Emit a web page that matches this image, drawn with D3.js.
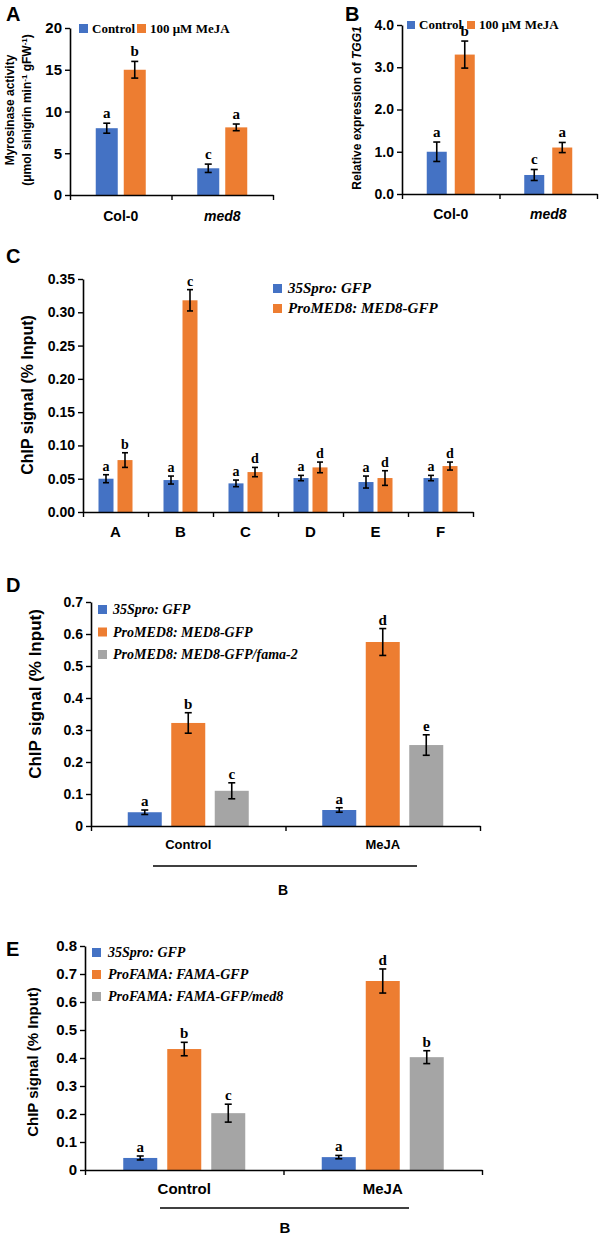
<!DOCTYPE html>
<html><head><meta charset="utf-8">
<script src="https://cdn.jsdelivr.net/npm/d3@7"></script>
<style>
body{margin:0;background:#fff;}
svg text{font-family:"Liberation Sans",Arial,sans-serif;}
</style></head><body>
<svg id="chart" width="600" height="1237"></svg>
<script>
// ---------- Panel A ----------
const aGroups = ["Col-0", "med8"];
const aSeriesNames = ["Control", "100 μM MeJA"];
const aControl = [8.0, 3.2];
const aControlErr = [0.6, 0.5];
const aControlLetters = ["a", "c"];
const aMeJA = [15.0, 8.1];
const aMeJAErr = [1.0, 0.4];
const aMeJALetters = ["b", "a"];
const aTicks = [0, 5, 10, 15, 20];

// ---------- Panel B ----------
const bGroups = ["Col-0", "med8"];
const bSeriesNames = ["Control", "100 μM MeJA"];
const bControl = [1.0, 0.45];
const bControlErr = [0.23, 0.13];
const bControlLetters = ["a", "c"];
const bMeJA = [3.3, 1.1];
const bMeJAErr = [0.32, 0.12];
const bMeJALetters = ["b", "a"];
const bTicks = [0, 1, 2, 3, 4];

// ---------- Panel C ----------
const cGroups = ["A", "B", "C", "D", "E", "F"];
const cSeriesNames = ["35Spro: GFP", "ProMED8: MED8-GFP"];
const cGFP = [0.050, 0.048, 0.043, 0.051, 0.045, 0.051];
const cGFPErr = [0.006, 0.006, 0.005, 0.004, 0.009, 0.004];
const cGFPLetters = ["a", "a", "a", "a", "a", "a"];
const cMED8 = [0.078, 0.318, 0.060, 0.067, 0.051, 0.069];
const cMED8Err = [0.011, 0.016, 0.007, 0.008, 0.011, 0.006];
const cMED8Letters = ["b", "c", "d", "d", "d", "d"];
const cTicks = [0, 0.05, 0.10, 0.15, 0.20, 0.25, 0.30, 0.35];

// ---------- Panel D ----------
const dGroups = ["Control", "MeJA"];
const dSeriesNames = ["35Spro: GFP", "ProMED8: MED8-GFP", "ProMED8: MED8-GFP/fama-2"];
const dGFP = [0.043, 0.050];
const dGFPErr = [0.007, 0.007];
const dGFPLetters = ["a", "a"];
const dMED8 = [0.322, 0.575];
const dMED8Err = [0.032, 0.042];
const dMED8Letters = ["b", "d"];
const dFama = [0.110, 0.253];
const dFamaErr = [0.025, 0.032];
const dFamaLetters = ["c", "e"];
const dTicks = [0, 0.1, 0.2, 0.3, 0.4, 0.5, 0.6, 0.7];
const dRegion = "B";

// ---------- Panel E ----------
const eGroups = ["Control", "MeJA"];
const eSeriesNames = ["35Spro: GFP", "ProFAMA: FAMA-GFP", "ProFAMA: FAMA-GFP/med8"];
const eGFP = [0.043, 0.046];
const eGFPErr = [0.007, 0.006];
const eGFPLetters = ["a", "a"];
const eFAMA = [0.432, 0.675];
const eFAMAErr = [0.024, 0.043];
const eFAMALetters = ["b", "d"];
const eMed8 = [0.203, 0.403];
const eMed8Err = [0.032, 0.023];
const eMed8Letters = ["c", "b"];
const eTicks = [0, 0.1, 0.2, 0.3, 0.4, 0.5, 0.6, 0.7, 0.8];
const eRegion = "B";

const BLUE = "#4472C4", ORANGE = "#ED7D31", GRAY = "#A5A5A5";
const SANS = "'Liberation Sans', Arial, sans-serif";
const SERIF = "'Liberation Serif', 'Times New Roman', serif";

const svg = d3.select("#chart");

function panel(o) {
  const g = svg.append("g");
  const y = d3.scaleLinear().domain([0, o.max]).range([o.bottom, o.top]);
  const x = d3.scaleBand().domain(o.groups).range([o.left, o.right]);
  const n = o.series.length;
  const gw = n * o.barW + (n - 1) * o.gap;
  const inner = d3.scaleBand().domain(d3.range(n)).range([-gw / 2, gw / 2])
    .paddingInner(o.gap / (o.barW + o.gap));

  o.series.forEach((s, si) => {
    o.groups.forEach((grp, gi) => {
      const cx = x(grp) + x.bandwidth() / 2 + inner(si);
      g.append("rect")
        .attr("x", cx).attr("width", inner.bandwidth())
        .attr("y", y(s.values[gi])).attr("height", y(0) - y(s.values[gi]))
        .attr("fill", s.color);
    });
  });
  o.series.forEach((s, si) => {
    o.groups.forEach((grp, gi) => {
      const mx = x(grp) + x.bandwidth() / 2 + inner(si) + inner.bandwidth() / 2;
      const v = s.values[gi], e = s.errs[gi];
      const y1 = y(v + e), y2 = y(v - e);
      const cw = o.cap;
      g.append("line").attr("x1", mx).attr("x2", mx).attr("y1", y1).attr("y2", y2)
        .attr("stroke", "#000").attr("stroke-width", 1.6);
      [y1, y2].forEach(yy => g.append("line").attr("x1", mx - cw).attr("x2", mx + cw)
        .attr("y1", yy).attr("y2", yy).attr("stroke", "#000").attr("stroke-width", 1.6));
      g.append("text").attr("x", mx).attr("y", y1 - o.letterGap)
        .attr("text-anchor", "middle").style("font-family", SERIF)
        .style("font-weight", "bold").style("font-size", o.letterSize + "px")
        .text(s.letters[gi]);
    });
  });

  const ya = g.append("g").attr("transform", `translate(${o.left},0)`)
    .call(d3.axisLeft(y).tickValues(o.ticks).tickFormat(o.fmt).tickSize(5).tickSizeOuter(0).tickPadding(3));
  ya.selectAll("text").style("font-family", SANS).style("font-weight", "bold")
    .style("font-size", o.tickSize + "px").attr("fill", "#000");
  ya.select(".domain").attr("stroke", "#000").attr("stroke-width", 1.6);
  ya.selectAll(".tick line").attr("stroke", "#000").attr("stroke-width", 1.4);

  const xl = d3.scaleLinear().domain([0, o.groups.length]).range([o.left, o.right]);
  const xa = g.append("g").attr("transform", `translate(0,${o.bottom})`)
    .call(d3.axisBottom(xl).tickValues(d3.range(o.groups.length + 1)).tickFormat("").tickSize(5).tickSizeOuter(0));
  xa.select(".domain").attr("stroke", "#000").attr("stroke-width", 1.6);
  xa.selectAll(".tick line").attr("stroke", "#000").attr("stroke-width", 1.4);

  o.groups.forEach((grp, gi) => {
    g.append("text").attr("x", x(grp) + x.bandwidth() / 2).attr("y", o.bottom + o.catDy)
      .attr("text-anchor", "middle").style("font-family", SANS).style("font-weight", "bold")
      .style("font-style", (o.italicGroups && o.italicGroups.includes(grp)) ? "italic" : "normal")
      .style("font-size", o.catSize + "px").text(grp);
  });

  const t = g.append("text").attr("transform", `translate(${o.titleX},${o.titleY}) rotate(-90)`)
    .attr("text-anchor", "middle").style("font-family", SANS).style("font-weight", "bold")
    .style("font-size", o.titleSize + "px");
  o.title(t);

  svg.append("text").attr("x", o.plX).attr("y", o.plY).style("font-family", SANS)
    .style("font-weight", "bold").style("font-size", "20px").text(o.pl);
  return { x, y, g };
}

function legend(items, o) {
  items.forEach((it, i) => {
    const xx = o.x + (o.dx ? o.dxs[i] : 0);
    const yy = o.y + (o.dy ? i * o.dy : 0);
    svg.append("rect").attr("x", xx).attr("y", yy - o.sq).attr("width", o.sq).attr("height", o.sq).attr("fill", it.color);
    svg.append("text").attr("x", xx + o.sq + o.pad).attr("y", yy)
      .style("font-family", SERIF).style("font-weight", "bold")
      .style("font-style", o.italic ? "italic" : "normal")
      .style("font-size", o.size + "px").text(it.name);
  });
}

// ---- A ----
panel({
  left: 70, right: 273, top: 28, bottom: 195, max: 20, ticks: aTicks, fmt: d3.format("d"),
  groups: aGroups, italicGroups: ["med8"], barW: 22, gap: 6, cap: 3.5, letterGap: 5, letterSize: 15,
  series: [
    { values: aControl, errs: aControlErr, letters: aControlLetters, color: BLUE },
    { values: aMeJA, errs: aMeJAErr, letters: aMeJALetters, color: ORANGE }
  ],
  tickSize: 15, catDy: 26, catSize: 14,
  titleX: 14, titleY: 110, titleSize: 12,
  title: t => {
    t.append("tspan").attr("x", 0).attr("dy", 0).text("Myrosinase activity");
    t.append("tspan").attr("x", 0).attr("dy", 17).text("(μmol sinigrin min");
    t.append("tspan").attr("dy", -4).style("font-size", "8px").text("-1");
    t.append("tspan").attr("dy", 4).text(" gFW");
    t.append("tspan").attr("dy", -4).style("font-size", "8px").text("-1");
    t.append("tspan").attr("dy", 4).text(")");
  },
  pl: "A", plX: 6, plY: 21
});
legend([{ name: aSeriesNames[0], color: BLUE }, { name: aSeriesNames[1], color: ORANGE }],
  { x: 79, y: 33, sq: 9, pad: 4, size: 13, dx: true, dxs: [0, 58] });

// ---- B ----
panel({
  left: 402, right: 597, top: 25, bottom: 194, max: 4, ticks: bTicks, fmt: d3.format(".1f"),
  groups: bGroups, italicGroups: ["med8"], barW: 20, gap: 8, cap: 3.5, letterGap: 5, letterSize: 15,
  series: [
    { values: bControl, errs: bControlErr, letters: bControlLetters, color: BLUE },
    { values: bMeJA, errs: bMeJAErr, letters: bMeJALetters, color: ORANGE }
  ],
  tickSize: 14, catDy: 25, catSize: 14,
  titleX: 361, titleY: 108, titleSize: 12,
  title: t => {
    t.append("tspan").text("Relative expression of ");
    t.append("tspan").style("font-style", "italic").text("TGG1");
  },
  pl: "B", plX: 345, plY: 21
});
legend([{ name: bSeriesNames[0], color: BLUE }, { name: bSeriesNames[1], color: ORANGE }],
  { x: 407, y: 29, sq: 8, pad: 4, size: 13, dx: true, dxs: [0, 60] });

// ---- C ----
panel({
  left: 83, right: 473, top: 279, bottom: 512, max: 0.35, ticks: cTicks, fmt: d3.format(".2f"),
  groups: cGroups, barW: 15, gap: 4, cap: 3, letterGap: 4, letterSize: 14,
  series: [
    { values: cGFP, errs: cGFPErr, letters: cGFPLetters, color: BLUE },
    { values: cMED8, errs: cMED8Err, letters: cMED8Letters, color: ORANGE }
  ],
  tickSize: 14, catDy: 25, catSize: 15,
  titleX: 33, titleY: 395, titleSize: 16,
  title: t => t.text("ChIP signal (% Input)"),
  pl: "C", plX: 6, plY: 263
});
legend([{ name: cSeriesNames[0], color: BLUE }, { name: cSeriesNames[1], color: ORANGE }],
  { x: 273, y: 293, sq: 9, pad: 6, size: 15, italic: true, dy: 20 });

// ---- D ----
const zeroFmt = d => d === 0 ? "0" : d3.format(".1f")(d);
panel({
  left: 91, right: 480, top: 602, bottom: 826, max: 0.7, ticks: dTicks, fmt: zeroFmt,
  groups: dGroups, barW: 34, gap: 9.5, cap: 3.5, letterGap: 4, letterSize: 15,
  series: [
    { values: dGFP, errs: dGFPErr, letters: dGFPLetters, color: BLUE },
    { values: dMED8, errs: dMED8Err, letters: dMED8Letters, color: ORANGE },
    { values: dFama, errs: dFamaErr, letters: dFamaLetters, color: GRAY }
  ],
  tickSize: 14, catDy: 23, catSize: 13,
  titleX: 41, titleY: 694, titleSize: 17,
  title: t => t.text("ChIP signal (% Input)"),
  pl: "D", plX: 6, plY: 592
});
legend(dSeriesNames.map((nm, i) => ({ name: nm, color: [BLUE, ORANGE, GRAY][i] })),
  { x: 98, y: 614, sq: 9, pad: 6, size: 14, italic: true, dy: 22.5 });
svg.append("line").attr("x1", 153).attr("x2", 417).attr("y1", 866).attr("y2", 866)
  .attr("stroke", "#000").attr("stroke-width", 1.5);
svg.append("text").attr("x", 283).attr("y", 895).attr("text-anchor", "middle")
  .style("font-family", SANS).style("font-weight", "bold").style("font-size", "14px").text(dRegion);

// ---- E ----
panel({
  left: 85, right: 482, top: 946, bottom: 1170, max: 0.8, ticks: eTicks, fmt: zeroFmt,
  groups: eGroups, barW: 34, gap: 10, cap: 3.5, letterGap: 4, letterSize: 15,
  series: [
    { values: eGFP, errs: eGFPErr, letters: eGFPLetters, color: BLUE },
    { values: eFAMA, errs: eFAMAErr, letters: eFAMALetters, color: ORANGE },
    { values: eMed8, errs: eMed8Err, letters: eMed8Letters, color: GRAY }
  ],
  tickSize: 15, catDy: 24, catSize: 15,
  titleX: 38, titleY: 1062, titleSize: 15,
  title: t => t.text("ChIP signal (% Input)"),
  pl: "E", plX: 6, plY: 956
});
legend(eSeriesNames.map((nm, i) => ({ name: nm, color: [BLUE, ORANGE, GRAY][i] })),
  { x: 92, y: 957, sq: 9, pad: 7, size: 14, italic: true, dy: 22 });
svg.append("line").attr("x1", 160).attr("x2", 409).attr("y1", 1208).attr("y2", 1208)
  .attr("stroke", "#000").attr("stroke-width", 1.5);
svg.append("text").attr("x", 285).attr("y", 1233).attr("text-anchor", "middle")
  .style("font-family", SANS).style("font-weight", "bold").style("font-size", "15px").text(eRegion);
</script>
</body></html>
